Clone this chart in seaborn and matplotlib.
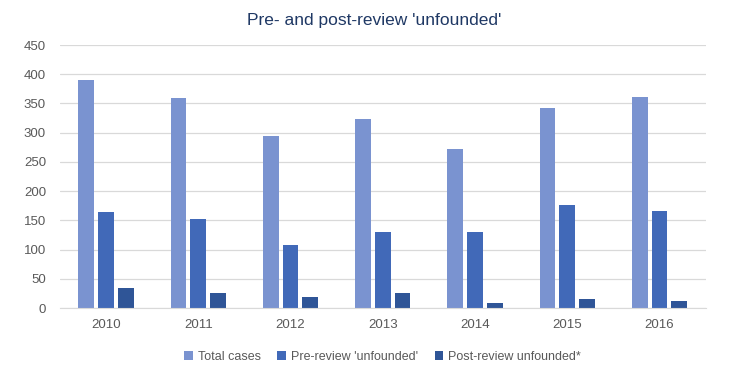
import matplotlib
matplotlib.use("Agg")
import matplotlib.pyplot as plt
import seaborn as sns
import pandas as pd

years = ["2010", "2011", "2012", "2013", "2014", "2015", "2016"]
total_cases = [390, 360, 295, 324, 272, 342, 361]
pre_review = [165, 153, 108, 130, 130, 177, 166]
post_review = [35, 25, 19, 26, 9, 16, 12]
series = ["Total cases", "Pre-review 'unfounded'", "Post-review unfounded*"]
colors = ["#7A93D0", "#4169B8", "#2F5597"]

df = pd.DataFrame({
    "year": years * 3,
    "value": total_cases + pre_review + post_review,
    "series": [s for s in series for _ in years],
})

sns.set_style("white")
plt.rcParams["font.family"] = ["Liberation Sans", "DejaVu Sans"]

fig = plt.figure(figsize=(7.49, 3.69), dpi=100)
ax = fig.add_axes([0.080, 0.165, 0.862, 0.713])

sns.barplot(data=df, x="year", y="value", hue="series", palette=colors,
            width=0.64, gap=0.2, ax=ax, saturation=1, linewidth=0)

ax.set_ylim(0, 450)
ax.set_yticks(range(0, 451, 50))
ax.yaxis.grid(True, color="#D9D9D9", linewidth=0.9)
ax.set_axisbelow(True)
for s in ["top", "right", "left"]:
    ax.spines[s].set_visible(False)
ax.spines["bottom"].set_color("#D9D9D9")
ax.tick_params(axis="both", length=0, labelsize=9.5, labelcolor="#595959", pad=8)
ax.tick_params(axis="y", pad=10)
ax.set_xlabel("")
ax.set_ylabel("")
ax.set_xlim(-0.5, 6.5)

fig.suptitle("Pre- and post-review 'unfounded'", y=0.965, fontsize=12.5, color="#1F3864")

ax.legend(loc="upper center", bbox_to_anchor=(0.5, -0.12), ncol=3, frameon=False,
          fontsize=9, labelcolor="#595959", handlelength=0.7, handleheight=0.7,
          handletextpad=0.4, columnspacing=1.3)

fig.savefig("out.png", dpi=100)
